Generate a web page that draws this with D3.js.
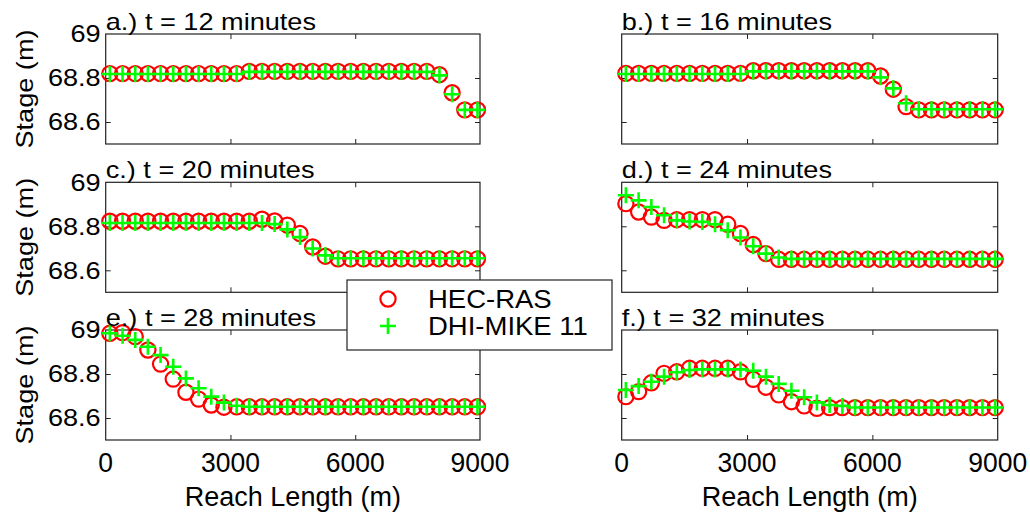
<!DOCTYPE html>
<html>
<head>
<meta charset="utf-8">
<script src="https://cdn.jsdelivr.net/npm/d3@7"></script>
<style>
  html, body { margin: 0; padding: 0; background: #fff; }
  svg { display: block; }
  text { font-family: "Liberation Sans", Arial, sans-serif; fill: #000; }
</style>
</head>
<body>
<svg id="chart" width="1030" height="515"></svg>
<script>
// Cross-section stations along the reach (m)
const stations = [100, 405, 710, 1014, 1319, 1624, 1929, 2234, 2538, 2843,
  3148, 3453, 3758, 4062, 4367, 4672, 4977, 5282, 5586, 5891,
  6196, 6501, 6806, 7110, 7415, 7720, 8025, 8330, 8634, 8939];

// Water surface stage (m) at each station, per snapshot time
const hecA = [68.82, 68.82, 68.82, 68.82, 68.82, 68.82, 68.82, 68.82, 68.82, 68.82,
  68.82, 68.83, 68.83, 68.83, 68.83, 68.83, 68.83, 68.83, 68.83, 68.83,
  68.83, 68.83, 68.83, 68.83, 68.83, 68.83, 68.815, 68.733, 68.655, 68.655];
const mikeA = [68.818, 68.818, 68.818, 68.818, 68.818, 68.818, 68.818, 68.818, 68.818, 68.818,
  68.818, 68.828, 68.828, 68.828, 68.828, 68.828, 68.828, 68.828, 68.828, 68.828,
  68.828, 68.828, 68.828, 68.828, 68.828, 68.828, 68.812, 68.726, 68.655, 68.655];

const hecB = [68.821, 68.821, 68.821, 68.821, 68.821, 68.821, 68.821, 68.821, 68.821, 68.821,
  68.833, 68.833, 68.833, 68.833, 68.833, 68.833, 68.833, 68.833, 68.833, 68.833,
  68.809, 68.749, 68.67, 68.655, 68.655, 68.655, 68.655, 68.655, 68.655, 68.655];
const mikeB = [68.818, 68.818, 68.818, 68.818, 68.818, 68.818, 68.818, 68.818, 68.818, 68.818,
  68.83, 68.83, 68.83, 68.83, 68.83, 68.83, 68.83, 68.83, 68.83, 68.83,
  68.803, 68.753, 68.685, 68.658, 68.658, 68.658, 68.658, 68.658, 68.658, 68.658];

const hecC = [68.823, 68.823, 68.823, 68.823, 68.823, 68.823, 68.823, 68.823, 68.823, 68.823,
  68.823, 68.823, 68.832, 68.824, 68.805, 68.767, 68.706, 68.664, 68.652, 68.652,
  68.652, 68.652, 68.652, 68.652, 68.652, 68.652, 68.652, 68.652, 68.652, 68.652];
const mikeC = [68.815, 68.815, 68.815, 68.815, 68.815, 68.815, 68.815, 68.815, 68.815, 68.815,
  68.815, 68.815, 68.815, 68.81, 68.786, 68.751, 68.699, 68.668, 68.655, 68.655,
  68.655, 68.655, 68.655, 68.655, 68.655, 68.655, 68.655, 68.655, 68.655, 68.655];

const hecD = [68.903, 68.865, 68.842, 68.827, 68.83, 68.83, 68.83, 68.83, 68.809, 68.767,
  68.717, 68.676, 68.65, 68.65, 68.65, 68.65, 68.65, 68.65, 68.65, 68.65,
  68.65, 68.65, 68.65, 68.65, 68.65, 68.65, 68.65, 68.65, 68.65, 68.65];
const mikeD = [68.941, 68.918, 68.888, 68.85, 68.827, 68.822, 68.82, 68.809, 68.782, 68.749,
  68.709, 68.676, 68.658, 68.652, 68.652, 68.652, 68.652, 68.652, 68.652, 68.652,
  68.652, 68.652, 68.652, 68.652, 68.652, 68.652, 68.652, 68.652, 68.652, 68.652];

const hecE = [68.985, 68.988, 68.97, 68.909, 68.845, 68.777, 68.717, 68.686, 68.659, 68.649,
  68.651, 68.651, 68.651, 68.651, 68.651, 68.651, 68.651, 68.651, 68.651, 68.651,
  68.651, 68.651, 68.651, 68.651, 68.651, 68.651, 68.651, 68.651, 68.651, 68.651];
const mikeE = [68.985, 68.974, 68.955, 68.924, 68.886, 68.833, 68.78, 68.735, 68.697, 68.67,
  68.656, 68.651, 68.651, 68.651, 68.651, 68.651, 68.651, 68.651, 68.651, 68.651,
  68.651, 68.651, 68.651, 68.651, 68.651, 68.651, 68.651, 68.651, 68.651, 68.651];

const hecF = [68.697, 68.72, 68.76, 68.803, 68.81, 68.826, 68.826, 68.826, 68.826, 68.81,
  68.776, 68.74, 68.705, 68.674, 68.655, 68.644, 68.647, 68.647, 68.647, 68.647,
  68.647, 68.647, 68.647, 68.647, 68.647, 68.647, 68.647, 68.647, 68.647, 68.647];
const mikeF = [68.727, 68.745, 68.765, 68.788, 68.808, 68.818, 68.821, 68.821, 68.821, 68.821,
  68.815, 68.788, 68.755, 68.724, 68.694, 68.671, 68.659, 68.655, 68.648, 68.648,
  68.648, 68.648, 68.648, 68.648, 68.648, 68.648, 68.648, 68.648, 68.648, 68.648];

const panelTitles = ["a.) t = 12 minutes", "b.) t = 16 minutes", "c.) t = 20 minutes",
  "d.) t = 24 minutes", "e.) t = 28 minutes", "f.) t = 32 minutes"];
const seriesNames = ["HEC-RAS", "DHI-MIKE 11"];
const xTicks = [0, 3000, 6000, 9000];
const yTicks = [68.6, 68.8, 69];
const xDomain = [0, 9000];
const yDomain = [68.5, 69.0];

const hecSeries = [hecA, hecB, hecC, hecD, hecE, hecF];
const mikeSeries = [mikeA, mikeB, mikeC, mikeD, mikeE, mikeF];

// Layout
const colX = [[105.7, 480], [621.7, 997.7]];
const rowY = [34, 182.3, 330];
const panelH = 110;
const tickLen = 5;
const FONT = 24;
const SX = 1.13;   // horizontal stretch of the glyphs
const RED = "#ff0000", GREEN = "#00ff00";

const svg = d3.select("#chart");

function label(parent, x, y, str, opts = {}) {
  const size = opts.size || FONT;
  const sx = opts.sx || SX;
  const rot = opts.rotate || 0;
  return parent.append("text")
    .attr("transform", `translate(${x},${y}) rotate(${rot}) scale(${sx},1)`)
    .attr("text-anchor", opts.anchor || "start")
    .attr("dominant-baseline", opts.baseline || "auto")
    .style("font-size", size + "px")
    .text(str);
}

const crossPath = "M-8,0H8M0,-8V8";

hecSeries.forEach((hec, p) => {
  const col = p % 2, row = Math.floor(p / 2);
  const [x0, x1] = colX[col];
  const y0 = rowY[row], y1 = y0 + panelH;
  const x = d3.scaleLinear().domain(xDomain).range([x0, x1]);
  const y = d3.scaleLinear().domain(yDomain).range([y1, y0]);
  const mike = mikeSeries[p];
  const g = svg.append("g");

  // Ticks pointing inward on all four sides
  const axes = g.append("g").attr("class", "axes");
  const xt = xTicks.filter(t => t > xDomain[0] && t < xDomain[1]);
  const yt = yTicks.filter(t => t > yDomain[0] && t < yDomain[1]);
  axes.append("g").attr("transform", `translate(0,${y1})`)
    .call(d3.axisTop(x).tickValues(xt).tickSize(tickLen).tickFormat(""));
  axes.append("g").attr("transform", `translate(0,${y0})`)
    .call(d3.axisBottom(x).tickValues(xt).tickSize(tickLen).tickFormat(""));
  axes.append("g").attr("transform", `translate(${x0},0)`)
    .call(d3.axisRight(y).tickValues(yt).tickSize(tickLen).tickFormat(""));
  axes.append("g").attr("transform", `translate(${x1},0)`)
    .call(d3.axisLeft(y).tickValues(yt).tickSize(tickLen).tickFormat(""));
  axes.selectAll(".domain").remove();
  axes.selectAll(".tick line").attr("stroke", "#222").attr("stroke-width", 1);

  // Frame
  g.append("rect").attr("x", x0).attr("y", y0)
    .attr("width", x1 - x0).attr("height", y1 - y0)
    .attr("fill", "none").attr("stroke", "#222").attr("stroke-width", 1.2);

  // HEC-RAS circles
  g.append("g").selectAll("circle").data(hec).join("circle")
    .attr("cx", (d, i) => x(stations[i]))
    .attr("cy", d => y(d))
    .attr("r", 7.6)
    .attr("fill", "none").attr("stroke", RED).attr("stroke-width", 2.2);

  // DHI-MIKE 11 crosses
  g.append("g").selectAll("path").data(mike).join("path")
    .attr("transform", (d, i) => `translate(${x(stations[i])},${y(d)})`)
    .attr("d", crossPath)
    .attr("fill", "none").attr("stroke", GREEN).attr("stroke-width", 2.6);

  // Panel title
  label(g, x0, y0 - 4, panelTitles[p], { sx: 1.18, size: 23 });

  // Y tick labels and y-axis title on the left column
  if (col === 0) {
    yTicks.forEach(t => {
      label(g, x0 - 5, y(t), String(t), { anchor: "end", baseline: "central" });
    });
    label(g, 25, (y0 + y1) / 2, "Stage (m)", { anchor: "middle", baseline: "central", rotate: -90 });
  }

  // X tick labels and x-axis title on the bottom row
  if (row === 2) {
    xTicks.forEach(t => {
      label(g, x(t), y1 + 23, String(t), { anchor: "middle", baseline: "central", sx: 0.98, size: 27 });
    });
    label(g, (x0 + x1) / 2, y1 + 57, "Reach Length (m)", { anchor: "middle", baseline: "central", sx: 1.0, size: 27 });
  }
});

// Legend
const lg = svg.append("g");
lg.append("rect").attr("x", 347).attr("y", 280).attr("width", 265).attr("height", 70)
  .attr("fill", "#fff").attr("stroke", "#222").attr("stroke-width", 1.2);
lg.append("circle").attr("cx", 388).attr("cy", 299).attr("r", 7.6)
  .attr("fill", "none").attr("stroke", RED).attr("stroke-width", 2.2);
lg.append("path").attr("transform", "translate(388,326)").attr("d", crossPath)
  .attr("fill", "none").attr("stroke", GREEN).attr("stroke-width", 2.6);
label(lg, 428, 299, seriesNames[0], { baseline: "central", sx: 1.1, size: 25 });
label(lg, 428, 326, seriesNames[1], { baseline: "central", sx: 1.1, size: 25 });
</script>
</body>
</html>
